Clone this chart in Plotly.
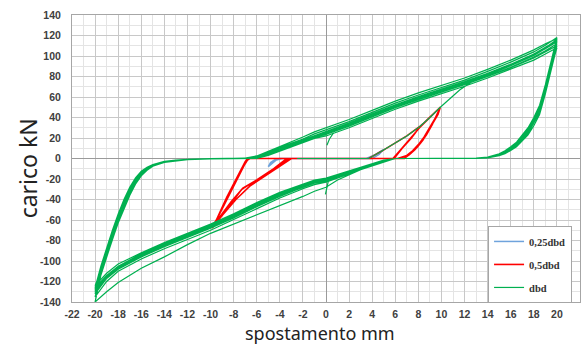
import plotly.graph_objects as go

# ---------------- data ----------------
# dbd (green): small first pieces, first excursion, then cycles (upper branch -> lower branch)
G0a_x = [0.65, 0.3, 0.08]
G0a_y = [25, 19, 13]
G0b_x = [0.2, 0.05, -0.05]
G0b_y = [-22, -30, -35]

F_x = [-2.5, 3.7, 4.8, 6, 7, 8.1, 9, 9.9, 10.8, 11.6, 12.5, 14, 16, 18, 19, 20]
F_y = [0, 0, 7, 15, 22, 31, 40, 50, 59, 67, 74, 82, 91, 101, 107, 114]

UX = [-20, -19.5, -19, -18.5, -18, -17.5, -17, -16.5, -16, -15.5, -15, -14, -13, -12, -10, -8, -7,
      -6, -5, -4, -3, -2, -1, 0, 1, 2, 4, 6, 8, 10, 12, 14, 16, 18, 19, 20]
LX = [20, 19.8, 19.5, 19, 18.5, 18, 17.5, 17, 16.5, 16, 15.5, 15, 14.5, 14, 13, 10, 7, 6,
      5, 4, 3, 2, 1, 0, -1, -2, -4, -6, -8, -10, -12, -14, -16, -18, -19, -20]

L0_y = [114, 104, 88, 65, 46, 35, 25.5, 19.5, 13, 9, 5.8, 3.4, 1.9, 0.9, 0, 0, 0, 0,
        -2, -6, -11, -16, -21, -28, -32, -37, -46, -55, -64, -73, -84, -96, -107, -121, -130, -140]
U1_y = [-140, -114, -96, -79, -63, -49, -36, -25, -17, -11.5, -7.5, -3.8, -2.2, -1.1, -0.3, 0, 0,
        1, 4.5, 9, 13, 17, 21.5, 25, 29, 33, 42, 51, 59, 66, 73.5, 81.5, 90.5, 100.5, 107, 114]
L1_y = [114, 107, 92, 70, 50, 38, 28, 21, 15, 10.5, 7, 4.2, 2.4, 1.2, 0.2, 0, 0, 0,
        -2.5, -6, -10, -13.5, -17, -20.5, -23, -27, -35, -45, -56, -66, -75, -84, -94, -106, -115, -128]
U2_y = [-128, -108, -91, -74, -58, -44, -31, -21, -14, -9.5, -6.5, -3.2, -1.8, -0.9, -0.2, 0, 0,
        0.5, 3.5, 8, 12, 16, 20.5, 23.5, 27.5, 31.5, 40.5, 49.5, 57.5, 64.5, 72, 80, 88.5, 98, 104, 110]
L2_y = [110, 102, 87, 65, 45, 34, 24.5, 18.5, 12.5, 8.5, 5.3, 3, 1.7, 0.8, 0, 0, 0, 0,
        -2, -5.5, -9.5, -13, -16.5, -20, -22, -26, -34, -44, -55, -65, -74, -83, -93, -105, -114, -126]
U3_y = [-126, -105, -87, -70, -54, -40, -28, -19, -12.5, -8.5, -5.8, -2.8, -1.6, -0.8, -0.2, 0, 0.3,
        2, 6, 11, 15, 19, 24, 28, 32, 36, 45, 54, 62, 69, 76.5, 85, 94, 104, 110.5, 118]
L3_y = [118, 109, 94, 72, 52, 40, 30, 22.5, 16, 11.5, 7.5, 4.6, 2.7, 1.4, 0.3, 0, 0, 0,
        -3, -6.5, -10.5, -14.5, -18, -22, -24, -28, -37, -47, -58, -68, -77, -86, -96, -108, -117, -132]
U4_y = [-132, -112, -95, -78, -62, -48, -35, -24.5, -16.5, -11, -7.3, -3.6, -2.1, -1, -0.3, 0, 0,
        0.2, 3, 7, 11, 15, 19.5, 22, 26, 30, 39, 48, 56, 63, 70.5, 78.5, 87, 96, 102, 108]
L4_y = [108, 100, 85, 63, 43, 32, 23, 17, 11.5, 7.8, 4.8, 2.7, 1.5, 0.7, 0, 0, 0, 0,
        -1.5, -5, -9, -12.5, -16, -19, -21, -25, -33, -43, -54, -64, -73, -82, -92, -103, -112, -124]
U5_y = [-124, -109, -92, -75, -59, -45, -32.5, -22, -15, -10, -6.8, -3.4, -1.9, -0.9, -0.2, 0, 0.5,
        2.5, 7, 12, 16.5, 21, 26, 30, 34, 38, 47, 56, 64, 71, 78.5, 87, 96, 106, 112, 117]
L5_y = [117, 105, 89, 66, 47, 35.5, 26, 20, 13.5, 9.5, 6, 3.5, 2, 1, 0, 0, 0, 0,
        -3.5, -7, -11, -15, -19, -23, -25.5, -29.5, -38.5, -49, -60, -70, -79, -88, -98, -110, -120, -135]
U6_y = [-135, -113, -95.5, -78.5, -62.5, -48.5, -35.5, -24.8, -16.8, -11.2, -7.4, -3.7, -2.1, -1, -0.3, 0, 0,
        0.6, 4, 8.5, 12.5, 16.5, 21, 24, 28, 32, 41, 50, 58, 65, 72.5, 80.5, 89, 99, 105, 112]
L6_y = [112, 104, 89, 67, 47.5, 36, 26.5, 20, 14, 9.8, 6.2, 3.7, 2.1, 1, 0.1, 0, 0, 0,
        -2.2, -5.8, -9.8, -13.2, -16.8, -20.2, -22.5, -26.5, -34.5, -44.5, -55.5, -65.5, -74.5, -83.5, -93.5, -105.5, -114.5, -130]
U7_y = [-130, -106.5, -89, -72, -56, -42, -29.5, -20, -13.2, -9, -6.1, -3, -1.7, -0.85, -0.2, 0, 0.2,
        1.2, 4.8, 9.5, 13.5, 17.5, 22, 26, 30, 34, 43, 52, 60, 67, 74.5, 82.5, 91.5, 101.5, 108, 116]
L7_y = [116, 108, 93, 71, 51, 39, 29, 21.7, 15.5, 11, 7.2, 4.4, 2.5, 1.3, 0.2, 0, 0, 0,
        -2.8, -6.2, -10.2, -14, -17.5, -21, -23.5, -27.5, -36, -46, -57, -67, -76, -85, -95, -107, -116, -127]
U8_y = [-127, -110, -93, -76, -60, -46, -33.5, -23, -15.5, -10.2, -6.9, -3.4, -2, -1, -0.2, 0, 0.2,
        1.5, 5.2, 10, 14, 18, 22.5, 26.5, 30.5, 34.5, 43.5, 52.5, 60.5, 67.5, 75, 83, 92, 102, 108.5, 115]
L8_y = [115, 106, 90.5, 68, 48.5, 37, 27, 20.5, 14.5, 10, 6.5, 3.9, 2.2, 1.1, 0.1, 0, 0, 0,
        -2.8, -6.5, -10.5, -14, -18, -21.5, -24, -28, -36.5, -46.5, -57.5, -67.5, -76.5, -85.5, -95.5, -107.5, -116.5, -131]

# 0,5dbd (red)
R_x = [0, 3.7, 4.8, 6, 7, 8.1, 9, 9.9,
       9.6, 9.2, 8.7, 8.2, 7.7, 7.2, 6.8, 6.6,
       -3.2, -4.5, -6, -7.2, -8.2, -9.2, -9.9,
       -9.4, -9, -8.5, -8, -7.6, -7.2, -6.9, -6.7,
       5.8, 6.5, 7.3, 8.1, 9, 9.9,
       9.5, 9, 8.5, 8, 7.5, 7, 6.5, 6.2,
       -3.0, -4.2, -5.5, -6.6, -7.8, -8.9, -9.8,
       -9.3, -8.9, -8.4, -7.9, -7.5, -7.1, -6.8, -6.6,
       5.9, 6.6, 7.4, 8.1, 9, 9.9,
       9.7, 9.3, 8.9, 8.4, 7.9, 7.4, 7, 6.8,
       -3.4, -5, -6.8, -7.3, -8.6, -9.8,
       -9.5, -9.1, -8.6, -8.1, -7.7, -7.3, -7, -6.8, 0]
R_y = [0, 0, 7, 15, 22, 31, 40, 50,
       42, 33, 23, 15, 8.5, 3.5, 0.5, 0,
       0, -10, -21, -29, -42, -57, -68,
       -58, -49, -37, -26, -17, -8, -2, 0,
       0, 9, 19, 30, 40, 50,
       40, 30, 21, 13.5, 7.5, 3, 0.8, 0,
       0, -9, -18, -27, -40, -54, -66,
       -56, -47, -36, -25, -16, -7, -1.5, 0,
       0, 10, 20, 30.5, 40.5, 50,
       43, 35, 27, 18, 11, 5.5, 2, 0,
       0, -14, -27, -30, -50, -67,
       -60, -50, -38, -27, -18, -9, -3, 0, 0]

# 0,25dbd (blue)
B_x = [0, 3.5, 4.3, 5, 4.6, 4, -3.8, -4.3, -5, -4.8, -4.4, -4, 0]
B_y = [0, 0, 4, 9, 4, 0, 0, -1.5, -8, -4, -1, 0, 0]

x_ticks = list(range(-22, 23, 2))
y_ticks = list(range(-140, 141, 20))

# ---------------- assemble green path ----------------
gx = G0a_x + [None] + G0b_x + [None] + F_x + LX
gy = G0a_y + [None] + G0b_y + [None] + F_y + L0_y
for uy, ly in [(U1_y, L1_y), (U2_y, L2_y), (U3_y, L3_y), (U4_y, L4_y), (U5_y, L5_y),
               (U6_y, L6_y), (U7_y, L7_y), (U8_y, L8_y)]:
    gx += UX + LX
    gy += uy + ly

fig = go.Figure()
fig.add_trace(go.Scatter(x=B_x, y=B_y, mode="lines", name="0,25dbd",
                         line=dict(color="#6FA3DC", width=1.5), legendgroup="a"))
fig.add_trace(go.Scatter(x=R_x, y=R_y, mode="lines", name="0,5dbd",
                         line=dict(color="#FF0000", width=1.6), legendgroup="b"))
fig.add_trace(go.Scatter(x=gx, y=gy, mode="lines", name="dbd",
                         line=dict(color="#00B050", width=1.2), legendgroup="c"))

tickfont = dict(family="Liberation Sans", size=10.5, color="#404040", weight="bold")
fig.update_layout(
    width=585, height=346,
    margin=dict(l=72, r=5, t=15, b=44),
    paper_bgcolor="white", plot_bgcolor="white",
    legend=dict(x=0.819, y=0.265, xanchor="left", yanchor="top",
                bgcolor="white", bordercolor="#A6A6A6", borderwidth=1,
                font=dict(family="Liberation Serif", size=10.5, color="#333333", weight="bold"),
                tracegroupgap=4, traceorder="grouped", itemwidth=30),
    xaxis=dict(range=[-22, 22], tickvals=x_ticks, ticktext=[str(v) for v in x_ticks],
               showgrid=True, gridcolor="#C8C8C8", gridwidth=1,
               minor=dict(dtick=1, showgrid=True, gridcolor="#E4E4E4"),
               zeroline=True, zerolinecolor="#9A9A9A", zerolinewidth=1,
               showline=True, mirror=True, linecolor="#A6A6A6", linewidth=1,
               ticks="", tickfont=tickfont, ticklabelstandoff=2,
               automargin=False),
    yaxis=dict(range=[-140, 140], tickvals=y_ticks, ticktext=[str(v) for v in y_ticks],
               showgrid=True, gridcolor="#C8C8C8", gridwidth=1,
               minor=dict(dtick=10, showgrid=True, gridcolor="#E4E4E4"),
               zeroline=True, zerolinecolor="#9A9A9A", zerolinewidth=1,
               showline=True, mirror=True, linecolor="#A6A6A6", linewidth=1,
               ticks="", tickfont=tickfont, ticklabelstandoff=8,
               automargin=False),
    annotations=[
        dict(text="spostamento mm", xref="paper", yref="paper", x=0.489, y=-0.155,
             xanchor="center", yanchor="bottom", showarrow=False, borderpad=0,
             font=dict(family="Noto Sans", size=18, color="#222222")),
        dict(text="carico kN", xref="paper", yref="paper", x=-0.087, y=0.465,
             xanchor="center", yanchor="middle", showarrow=False, textangle=-90,
             font=dict(family="Noto Sans", size=23, color="#222222")),
    ],
)
fig.write_html("out.html")
